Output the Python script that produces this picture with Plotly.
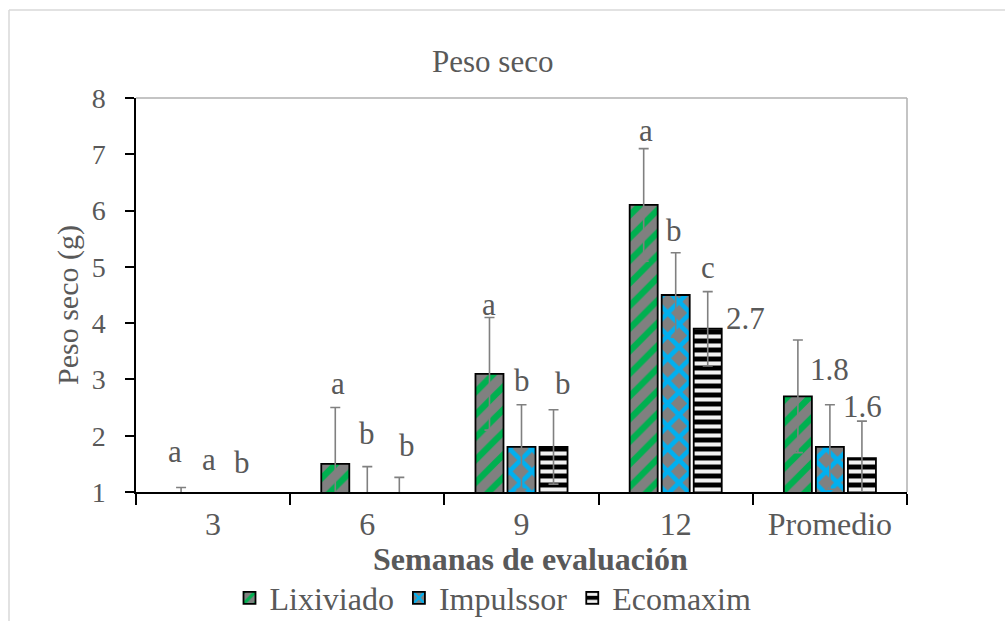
import plotly.graph_objects as go

# ---------------- data ----------------
categories = ["3", "6", "9", "12", "Promedio"]
series_names = ["Lixiviado", "Impulssor", "Ecomaxim"]
lixiviado = [0.08, 1.5, 3.1, 6.1, 2.7]
impulssor = [0.2, 0.7, 1.8, 4.5, 1.8]
ecomaxim = [0.1, 0.6, 1.8, 3.9, 1.6]
lixiviado_err = [1.0, 1.0, 1.0, 1.0, 1.0]
impulssor_err = [0.75, 0.75, 0.75, 0.75, 0.75]
ecomaxim_err = [0.66, 0.66, 0.66, 0.66, 0.66]
lixiviado_lbl = ["a", "a", "a", "a", "2.7"]
impulssor_lbl = ["a", "b", "b", "b", "1.8"]
ecomaxim_lbl = ["b", "b", "b", "c", "1.6"]

# ---------------- styling ----------------
W, H = 1005, 621
ML, MR, MT, MB = 136, 98, 98, 129
PW, PH = W - ML - MR, H - MT - MB
Y0, Y1 = 1, 8
FONT = "Liberation Serif, Times New Roman, serif"
TXT = "#595959"

# label pixel nudges (dx, dy-up) relative to top of error bar
lbl_nudge = [
    [(-6, 36), (3, 24), (0, 13), (2, 18), (-52, 22)],
    [(-4, 33), (0, 33), (0, 24), (-2, 22), (0, 35)],
    [(-3, 30), (8, 32), (9, 26), (0, 24), (1, 15)],
]

styles = [
    dict(shape="/", bg="#808080", fg="#00b050", size=16, solidity=0.4),
    dict(shape="x", bg="#808080", fg="#00b0f0", size=16, solidity=0.5),
    dict(shape="-", bg="#000000", fg="#f2f2f2", size=9, solidity=0.45),
]

values = [lixiviado, impulssor, ecomaxim]
errors = [lixiviado_err, impulssor_err, ecomaxim_err]
labels = [lixiviado_lbl, impulssor_lbl, ecomaxim_lbl]

fig = go.Figure()
for name, vals, errs, st in zip(series_names, values, errors, styles):
    fig.add_trace(go.Bar(
        name=name, x=categories, y=vals,
        marker=dict(
            color=st["bg"],
            line=dict(color="#000000", width=1.8),
            pattern=dict(shape=st["shape"], bgcolor=st["bg"], fgcolor=st["fg"],
                         size=st["size"], solidity=st["solidity"], fillmode="replace"),
        ),
        error_y=dict(type="data", array=errs, visible=True,
                     color="#808080", thickness=1.6, width=5),
    ))

bargap, bargroupgap = 0.377, 0.125
cat_w = PW / len(categories)
slot = cat_w * (1 - bargap) / len(series_names)

annotations = []
for si, (vals, errs, lbls) in enumerate(zip(values, errors, labels)):
    off = (si - (len(series_names) - 1) / 2) * slot
    for ci in range(len(categories)):
        top = max(vals[ci] + errs[ci], Y0)
        dx, dy = lbl_nudge[si][ci]
        annotations.append(dict(
            x=ci, y=top, xref="x", yref="y", text=lbls[ci], showarrow=False,
            xanchor="center", yanchor="middle", xshift=off + dx, yshift=dy,
            font=dict(family=FONT, size=31, color=TXT),
        ))

def px_x(p):
    return (p - ML) / PW

def px_y(p):
    return (H - MB - p) / PH

annotations += [
    dict(text="Peso seco", x=px_x(492), y=px_y(62), xref="paper", yref="paper",
         showarrow=False, xanchor="center", yanchor="middle",
         font=dict(family=FONT, size=31, color=TXT)),
    dict(text="Peso seco (g)", x=px_x(68), y=px_y(305), xref="paper", yref="paper",
         showarrow=False, xanchor="center", yanchor="middle", textangle=-90,
         font=dict(family=FONT, size=30, color=TXT)),
    dict(text="<b>Semanas de evaluación</b>", x=px_x(530), y=px_y(559),
         xref="paper", yref="paper", showarrow=False, xanchor="center", yanchor="middle",
         font=dict(family=FONT, size=32, color=TXT)),
]

shapes = [
    dict(type="line", xref="paper", yref="paper", x0=0, x1=1, y0=1, y1=1,
         line=dict(color="#b0b0b0", width=1.5)),
    dict(type="line", xref="paper", yref="paper", x0=1, x1=1, y0=0, y1=1,
         line=dict(color="#b0b0b0", width=1.5)),
    dict(type="line", xref="paper", yref="paper", x0=px_x(9), x1=px_x(W + 5),
         y0=px_y(10), y1=px_y(10), line=dict(color="#d9d9d9", width=1.5)),
    dict(type="line", xref="paper", yref="paper", x0=px_x(9), x1=px_x(9),
         y0=px_y(10), y1=px_y(H + 5), line=dict(color="#d9d9d9", width=1.5)),
]

fig.update_layout(
    width=W, height=H,
    margin=dict(l=ML, r=MR, t=MT, b=MB, pad=0, autoexpand=False),
    paper_bgcolor="white", plot_bgcolor="white",
    barmode="group", bargap=bargap, bargroupgap=bargroupgap,
    font=dict(family=FONT, color=TXT),
    showlegend=True,
    legend=dict(orientation="h", x=px_x(493), xanchor="center",
                y=px_y(598), yanchor="middle", itemwidth=30,
                font=dict(family=FONT, size=32, color=TXT),
                bgcolor="rgba(0,0,0,0)"),
    annotations=annotations, shapes=shapes,
    xaxis=dict(type="category", range=[-0.5, len(categories) - 0.5], automargin=False,
               showline=True, linecolor="black", linewidth=1.5,
               ticks="outside", tickson="boundaries", ticklen=11, tickcolor="black",
               tickwidth=1.5, showgrid=False, zeroline=False, tickangle=0,
               tickfont=dict(family=FONT, size=32, color=TXT), ticklabelstandoff=3),
    yaxis=dict(range=[Y0, Y1], dtick=1, showline=True, linecolor="black", linewidth=1.5,
               automargin=False,
               ticks="outside", ticklen=9, tickcolor="black", tickwidth=1.5,
               showgrid=False, zeroline=False,
               tickfont=dict(family=FONT, size=28, color=TXT), ticklabelstandoff=14),
)

fig.write_html("out.html", config={"displayModeBar": False},
               post_script="document.body.style.margin='0';document.body.style.overflow='hidden';")
